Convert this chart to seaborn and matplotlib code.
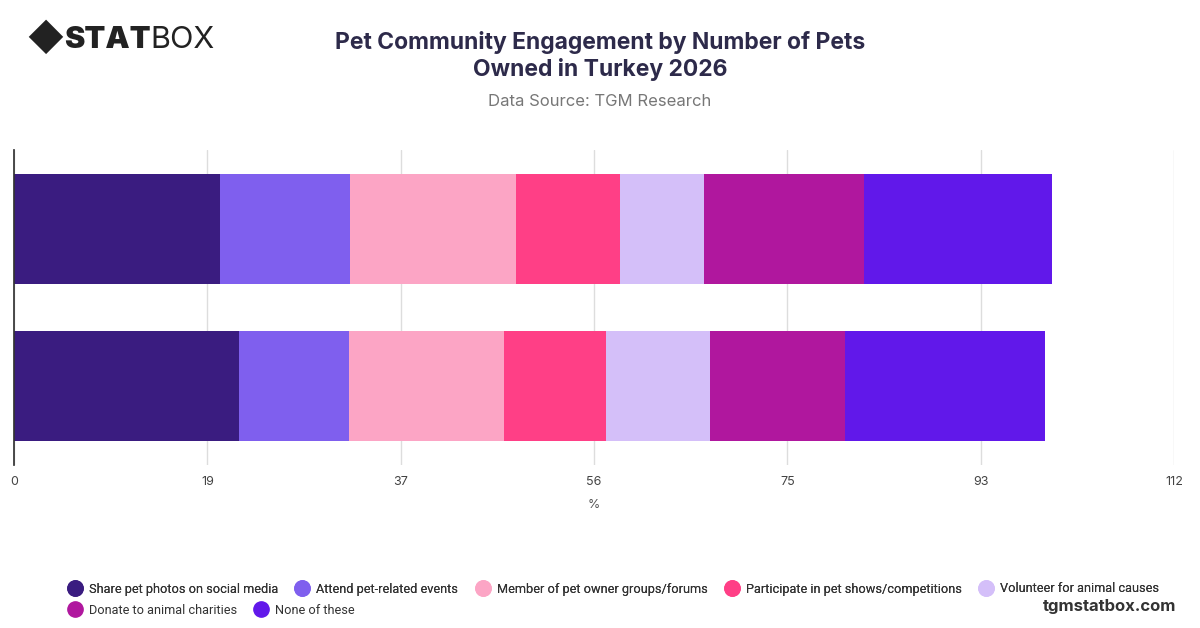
import matplotlib.pyplot as plt
import seaborn as sns
import numpy as np
import pandas as pd
from matplotlib.lines import Line2D

groups = ["1 pet", "2+ pets"]
activities = [
    "Share pet photos on social media",
    "Attend pet-related events",
    "Member of pet owner groups/forums",
    "Participate in pet shows/competitions",
    "Volunteer for animal causes",
    "Donate to animal charities",
    "None of these",
]
values_1 = [19.9, 12.5, 16.1, 10.0, 8.1, 15.5, 18.1]
values_2 = [21.7, 10.6, 15.0, 9.9, 10.0, 13.0, 19.3]
colors = ["#3a1c80", "#7f5fee", "#fca5c5", "#ff3f86", "#d4bff9", "#b0179e", "#6118ea"]
tick_vals = [0, 112 / 6, 2 * 112 / 6, 3 * 112 / 6, 4 * 112 / 6, 5 * 112 / 6, 112]
tick_labels = ["0", "19", "37", "56", "75", "93", "112"]

sns.set_theme(style="white")
plt.rcParams["font.family"] = ["Inter", "DejaVu Sans"]

fig = plt.figure(figsize=(12, 6.28), dpi=100)
ax = fig.add_axes([14 / 1200, 1 - 465 / 628, 1160 / 1200, 315 / 628])

cum_1 = np.cumsum(values_1)
cum_2 = np.cumsum(values_2)
# draw cumulative totals from the largest down so each segment shows
for i in range(len(activities) - 1, -1, -1):
    df = pd.DataFrame({"group": groups, "total": [cum_1[i], cum_2[i]]})
    sns.barplot(data=df, x="total", y="group", orient="h", color=colors[i],
                width=0.7, saturation=1, linewidth=0, ax=ax, zorder=2)

ax.set_xlim(0, 112)
ax.set_ylim(1.5, -0.5)
ax.set_xticks(tick_vals)
ax.set_xticklabels(tick_labels, fontsize=9, color="#444444")
ax.set_yticks([])
ax.set_ylabel("")
ax.set_xlabel("%", fontsize=9, color="#555555", labelpad=8)
ax.grid(axis="x", color="#dddddd", linewidth=1, zorder=0)
ax.set_axisbelow(True)
for s in ["top", "right", "bottom"]:
    ax.spines[s].set_visible(False)
ax.spines["left"].set_color("#333333")
ax.tick_params(axis="x", length=0, pad=8)

fig.text(0.5, 1 - 56 / 628, "Pet Community Engagement by Number of Pets\nOwned in Turkey 2026",
         ha="center", va="center", fontsize=16.5, fontweight="bold", color="#2d2a4a", linespacing=1.25)
fig.text(0.5, 1 - 101 / 628, "Data Source: TGM Research", ha="center", va="center",
         fontsize=12, color="#777777")
fig.text(26 / 1200, 1 - 40 / 628, "◆", ha="left", va="center", fontsize=26, color="#222222")
fig.text(64 / 1200, 1 - 40 / 628, "STAT", ha="left", va="center", fontsize=22,
         fontweight="black", color="#222222")
fig.text(150 / 1200, 1 - 40 / 628, "BOX", ha="left", va="center", fontsize=22, color="#222222")
fig.text(1176 / 1200, 1 - 606 / 628, "tgmstatbox.com", ha="right", va="center",
         fontsize=12, fontweight="bold", color="#333333")

handles = [Line2D([0], [0], marker="o", linestyle="", markersize=11,
                  markerfacecolor=c, markeredgecolor=c) for c in colors]
legend_kw = dict(frameon=False, prop={"family": "Roboto", "size": 9.2},
                 handlelength=1.0, handletextpad=0.6, columnspacing=1.4,
                 labelcolor="#333333", borderpad=0)
row1 = fig.legend(handles[:5], activities[:5], loc="center left",
                  bbox_to_anchor=(62 / 1200, 1 - 589 / 628), ncol=5, **legend_kw)
fig.add_artist(row1)
fig.legend(handles[5:], activities[5:], loc="center left",
           bbox_to_anchor=(62 / 1200, 1 - 610 / 628), ncol=2, **legend_kw)

fig.savefig("out.png", dpi=100)
